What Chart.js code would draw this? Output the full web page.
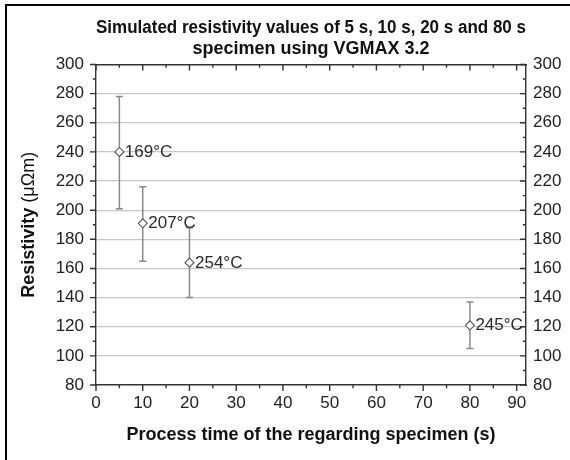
<!DOCTYPE html>
<html><head><meta charset="utf-8">
<script src="https://cdn.jsdelivr.net/npm/chart.js@4.4.1/dist/chart.umd.min.js"></script>
<style>
html,body{margin:0;padding:0;background:#fff;}
#wrap{position:relative;width:570px;height:460px;overflow:hidden;}
#frame{position:absolute;left:5px;top:4px;width:580px;height:470px;border-left:2px solid #000;border-top:2px solid #000;pointer-events:none;}
canvas{display:block;}
</style></head><body>
<div id="wrap"><canvas id="c" width="570" height="460"></canvas><div id="frame"></div></div>
<script>
// ---- data ----
const processTimes = [5, 10, 20, 80];
const resistivity = [240, 191, 164, 121];
const errPlus = [38, 25, 24, 16];
const errMinus = [39, 26, 24, 16];
const tempLabels = ['169°C', '207°C', '254°C', '245°C'];
const xMajorTicks = [0, 10, 20, 30, 40, 50, 60, 70, 80, 90];
const xMinorTicks = [5, 15, 25, 35, 45, 55, 65, 75, 85];
const yMajorTicks = [80, 100, 120, 140, 160, 180, 200, 220, 240, 260, 280, 300];
const yMinorTicks = [90, 110, 130, 150, 170, 190, 210, 230, 250, 270, 290];
const titleLines = ['Simulated resistivity values of 5 s, 10 s, 20 s and 80 s', 'specimen using VGMAX 3.2'];
const xTitle = 'Process time of the regarding specimen (s)';
const yTitleMain = 'Resistivity ';
const yTitleUnit = '(μΩm)';

const FONT = "'Liberation Sans', Arial, Helvetica, sans-serif";
const AXIS_COLOR = '#333333';

const errorBarPlugin = {
  id: 'errorBars',
  beforeDatasetsDraw(chart) {
    const ctx = chart.ctx, xs = chart.scales.x, ys = chart.scales.y;
    ctx.save();
    ctx.strokeStyle = '#8a8a8a';
    ctx.lineWidth = 1.5;
    processTimes.forEach((t, i) => {
      const px = xs.getPixelForValue(t);
      const top = ys.getPixelForValue(resistivity[i] + errPlus[i]);
      const bot = ys.getPixelForValue(resistivity[i] - errMinus[i]);
      ctx.beginPath();
      ctx.moveTo(px, top); ctx.lineTo(px, bot);
      ctx.moveTo(px - 3.5, top); ctx.lineTo(px + 3.5, top);
      ctx.moveTo(px - 3.5, bot); ctx.lineTo(px + 3.5, bot);
      ctx.stroke();
    });
    ctx.restore();
  },
  afterDatasetsDraw(chart) {
    const ctx = chart.ctx, xs = chart.scales.x, ys = chart.scales.y;
    ctx.save();
    ctx.fillStyle = '#2a2a2a';
    ctx.font = '17px ' + FONT;
    ctx.textAlign = 'left';
    ctx.textBaseline = 'middle';
    processTimes.forEach((t, i) => {
      ctx.fillText(tempLabels[i], xs.getPixelForValue(t) + 5.5, ys.getPixelForValue(resistivity[i]) + 0.5);
    });
    ctx.restore();
  },
  afterDraw(chart) {
    const ctx = chart.ctx, a = chart.chartArea;
    const xs = chart.scales.x, ys = chart.scales.y;
    ctx.save();
    ctx.strokeStyle = AXIS_COLOR;
    ctx.lineWidth = 1.4;
    const MAJ = 6, MIN = 3.2;
    ctx.beginPath();
    const hx = (vals, len) => vals.forEach(v => {
      const p = xs.getPixelForValue(v);
      ctx.moveTo(p, a.bottom); ctx.lineTo(p, a.bottom + len);   // bottom, outward
      ctx.moveTo(p, a.top); ctx.lineTo(p, a.top + len);         // top, inward
    });
    const vy = (vals, len) => vals.forEach(v => {
      const p = ys.getPixelForValue(v);
      ctx.moveTo(a.left, p); ctx.lineTo(a.left - len, p);       // left, outward
      ctx.moveTo(a.right, p); ctx.lineTo(a.right - len, p);     // right, inward
    });
    hx(xMajorTicks, MAJ); hx(xMinorTicks, MIN);
    vy(yMajorTicks, MAJ); vy(yMinorTicks, MIN);
    ctx.stroke();
    ctx.restore();

    // y-axis title: bold quantity, regular unit
    ctx.save();
    const cy = (a.top + a.bottom) / 2;
    ctx.translate(29.4, cy);
    ctx.rotate(-Math.PI / 2);
    ctx.textBaseline = 'middle';
    ctx.textAlign = 'left';
    const fb = 'bold 18px ' + FONT, fn = '18px ' + FONT;
    ctx.font = fb; const w1 = ctx.measureText(yTitleMain).width;
    ctx.font = fn; const w2 = ctx.measureText(yTitleUnit).width;
    const x0 = -(w1 + w2) / 2;
    ctx.fillStyle = '#111';
    ctx.font = fb; ctx.fillText(yTitleMain, x0, 0);
    ctx.font = fn; ctx.fillText(yTitleUnit, x0 + w1, 0);
    ctx.restore();
  }
};

Chart.defaults.font.family = FONT;

new Chart(document.getElementById('c'), {
  type: 'scatter',
  data: {
    datasets: [{
      data: processTimes.map((t, i) => ({ x: t, y: resistivity[i] })),
      pointStyle: 'rectRot',
      pointRadius: 4.5,
      pointHoverRadius: 4.5,
      pointBackgroundColor: '#ffffff',
      pointBorderColor: '#555555',
      pointBorderWidth: 1.1,
      showLine: false
    }]
  },
  options: {
    responsive: false,
    animation: false,
    devicePixelRatio: 1,
    layout: { padding: { left: 0, right: 0, top: 0, bottom: 0 } },
    plugins: {
      legend: { display: false },
      tooltip: { enabled: false },
      title: {
        display: true,
        fullSize: false,
        text: titleLines,
        color: '#111',
        font: { size: 18, weight: 'bold', lineHeight: '21.5px' },
        padding: { top: 17, bottom: 0 }
      }
    },
    scales: {
      x: {
        type: 'linear', position: 'bottom', min: 0, max: 92,
        afterFit(s) { s.height = 75; },
        ticks: {
          stepSize: 10, includeBounds: false, color: '#222', padding: 8,
          font: { size: 17 },
          callback: v => (xMajorTicks.includes(v) ? String(v) : '')
        },
        grid: { display: false, drawTicks: false },
        border: { display: true, color: AXIS_COLOR, width: 1.4 },
        title: { display: true, text: xTitle, color: '#111', font: { size: 18, weight: 'bold' }, padding: { top: 0, bottom: 13.8 } }
      },
      x2: {
        type: 'linear', position: 'top', min: 0, max: 92,
        afterFit(s) { s.height = 4.5; },
        ticks: { display: false },
        grid: { display: false, drawTicks: false },
        border: { display: true, color: AXIS_COLOR, width: 1.4 }
      },
      y: {
        type: 'linear', position: 'left', min: 80, max: 300,
        afterFit(s) { s.width = 96; },
        ticks: {
          stepSize: 20, color: '#222', padding: 12, font: { size: 17 },
          callback: v => (yMajorTicks.includes(v) ? String(v) : '')
        },
        grid: {
          drawTicks: false,
          lineWidth: 1.2,
          color: c => (c.tick && (c.tick.value === 80 || c.tick.value === 300)) ? 'rgba(0,0,0,0)' : '#c6c6c6'
        },
        border: { display: true, color: AXIS_COLOR, width: 1.4 },
        title: { display: false }
      },
      y2: {
        type: 'linear', position: 'right', min: 80, max: 300,
        afterFit(s) { s.width = 44; },
        ticks: {
          stepSize: 20, color: '#222', padding: 7, font: { size: 17 },
          callback: v => (yMajorTicks.includes(v) ? String(v) : '')
        },
        grid: { display: false, drawTicks: false },
        border: { display: true, color: AXIS_COLOR, width: 1.4 }
      }
    }
  },
  plugins: [errorBarPlugin]
});
</script>
</body></html>
